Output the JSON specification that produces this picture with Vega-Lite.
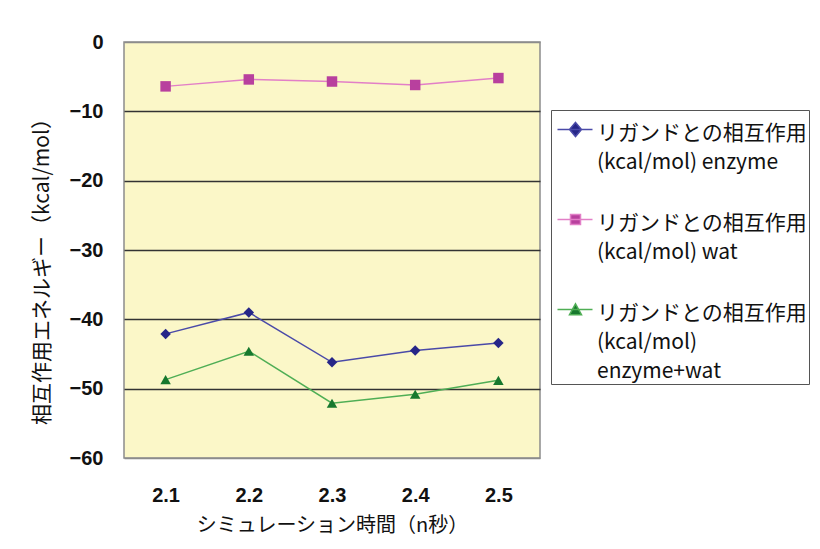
{
  "$schema": "https://vega.github.io/schema/vega-lite/v6.json",
  "autosize": "none",
  "width": 416,
  "height": 416,
  "padding": {"left": 124, "top": 42, "right": 280, "bottom": 91},
  "background": "#ffffff",
  "config": {
    "view": {"fill": "#fbf7c8", "stroke": "#8c8c8c", "strokeWidth": 1.5},
    "style": {"guide-label": {"lineHeight": 29}},
    "axis": {"labelFont": "Liberation Sans", "labelFontWeight": "bold", "labelFontSize": 20, "labelColor": "#111", "titleFont": "Noto Sans CJK JP", "titleFontWeight": "normal", "titleColor": "#111", "domain": false, "ticks": false},
    "legend": {
      "orient": "none", "legendX": 427, "legendY": 68,
      "padding": 2,
      "strokeColor": "#555555", "fillColor": "#ffffff",
      "labelFont": "Noto Sans CJK JP", "labelFontSize": 21, "labelColor": "#111", "labelLimit": 400,
      "labelOffset": 23, "labelBaseline": "top",
      "symbolSize": 64, "symbolStrokeWidth": 1.5, "symbolOpacity": 1,
      "rowPadding": 29
    }
  },
  "data": {
    "values": [
      {"time": "2.1", "series": "enzyme", "energy": -42.1},
      {"time": "2.2", "series": "enzyme", "energy": -39.0},
      {"time": "2.3", "series": "enzyme", "energy": -46.2},
      {"time": "2.4", "series": "enzyme", "energy": -44.5},
      {"time": "2.5", "series": "enzyme", "energy": -43.4},
      {"time": "2.1", "series": "wat", "energy": -6.4},
      {"time": "2.2", "series": "wat", "energy": -5.4},
      {"time": "2.3", "series": "wat", "energy": -5.7},
      {"time": "2.4", "series": "wat", "energy": -6.2},
      {"time": "2.5", "series": "wat", "energy": -5.2},
      {"time": "2.1", "series": "enzyme+wat", "energy": -48.7},
      {"time": "2.2", "series": "enzyme+wat", "energy": -44.6},
      {"time": "2.3", "series": "enzyme+wat", "energy": -52.1},
      {"time": "2.4", "series": "enzyme+wat", "energy": -50.8},
      {"time": "2.5", "series": "enzyme+wat", "energy": -48.8}
    ]
  },
  "encoding": {
    "x": {
      "field": "time", "type": "ordinal",
      "scale": {"type": "point", "padding": 0.5},
      "axis": {"title": "シミュレーション時間（n秒）", "labelAngle": 0, "labelPadding": 27, "grid": false, "titleFontSize": 20, "titleX": 208, "titleY": 67, "titleBaseline": "middle"}
    },
    "y": {
      "field": "energy", "type": "quantitative",
      "scale": {"domain": [-60, 0], "nice": false},
      "axis": {"title": "相互作用エネルギー（kcal/mol）", "values": [0, -10, -20, -30, -40, -50, -60], "labelPadding": 21, "grid": true,
        "gridColor": {"condition": {"test": "datum.value === 0 || datum.value === -60", "value": "#8c8c8c"}, "value": "#333333"},
        "gridWidth": 1.3, "titleFontSize": 21, "titleX": -82, "titleY": 224, "titleBaseline": "middle", "titleAlign": "center"}
    }
  },
  "layer": [
    {
      "mark": {"type": "line", "strokeWidth": 1.5},
      "encoding": {
        "stroke": {"field": "series", "type": "nominal", "title": null,
          "scale": {"domain": ["enzyme", "wat", "enzyme+wat"], "range": ["#4a4aa8", "#e27fc7", "#4fae55"]},
          "legend": {"labelExpr": "datum.value == 'enzyme' ? ['リガンドとの相互作用', '(kcal/mol) enzyme'] : datum.value == 'wat' ? ['リガンドとの相互作用', '(kcal/mol) wat'] : ['リガンドとの相互作用', '(kcal/mol)', 'enzyme+wat']"}}
      }
    },
    {
      "mark": {"type": "point", "filled": true, "opacity": 1, "size": 110},
      "encoding": {
        "shape": {"condition": [{"test": "datum.series == 'enzyme'", "value": "diamond"}, {"test": "datum.series == 'wat'", "value": "square"}], "value": "triangle-up"},
        "fill": {"field": "series", "type": "nominal", "title": null,
          "scale": {"domain": ["enzyme", "wat", "enzyme+wat"], "range": ["#262688", "#b8409e", "#17782e"]},
          "legend": {"labelExpr": "datum.value == 'enzyme' ? ['リガンドとの相互作用', '(kcal/mol) enzyme'] : datum.value == 'wat' ? ['リガンドとの相互作用', '(kcal/mol) wat'] : ['リガンドとの相互作用', '(kcal/mol)', 'enzyme+wat']"}}
      }
    },
    {
      "mark": {"type": "point", "filled": true, "opacity": 0},
      "encoding": {
        "shape": {"field": "series", "type": "nominal", "title": null,
          "scale": {"domain": ["enzyme", "wat", "enzyme+wat"], "range": ["M-1.5,1.75H7.25M3,0L4.5,1.75L3,3.5L1.5,1.75Z", "M-1.5,1.75H7.25M1.75,0.5H4.25V3H1.75Z", "M-1.5,1.75H7.25M3,0.35L4.5,3.05H1.5Z"]},
          "legend": {"labelExpr": "datum.value == 'enzyme' ? ['リガンドとの相互作用', '(kcal/mol) enzyme'] : datum.value == 'wat' ? ['リガンドとの相互作用', '(kcal/mol) wat'] : ['リガンドとの相互作用', '(kcal/mol)', 'enzyme+wat']"}},
        "fill": {"field": "series", "type": "nominal", "title": null,
          "legend": {"labelExpr": "datum.value == 'enzyme' ? ['リガンドとの相互作用', '(kcal/mol) enzyme'] : datum.value == 'wat' ? ['リガンドとの相互作用', '(kcal/mol) wat'] : ['リガンドとの相互作用', '(kcal/mol)', 'enzyme+wat']"}},
        "stroke": {"field": "series", "type": "nominal", "title": null,
          "legend": {"labelExpr": "datum.value == 'enzyme' ? ['リガンドとの相互作用', '(kcal/mol) enzyme'] : datum.value == 'wat' ? ['リガンドとの相互作用', '(kcal/mol) wat'] : ['リガンドとの相互作用', '(kcal/mol)', 'enzyme+wat']"}}
      }
    }
  ]
}
